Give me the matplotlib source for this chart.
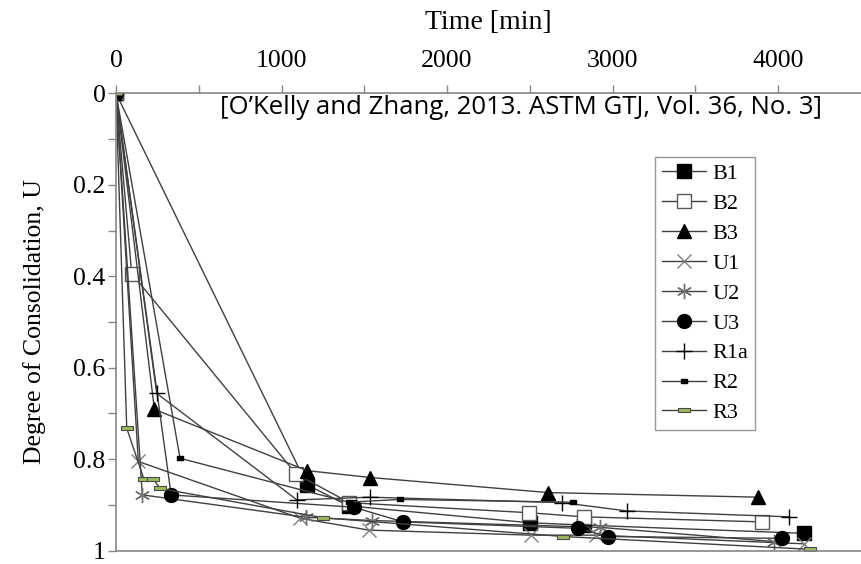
import numpy as np
import matplotlib.pyplot as plt
from matplotlib.path import Path

# Time [min] and degree of consolidation U for each specimen
t_B1 = [0, 1154, 1405, 2501, 2827, 4154]
u_B1 = [0, 0.856, 0.902, 0.939, 0.944, 0.962]

t_B2 = [0, 95, 1087, 1410, 2495, 2827, 3900]
u_B2 = [0, 0.394, 0.832, 0.895, 0.917, 0.926, 0.937]

t_B3 = [0, 232, 1154, 1537, 2611, 3880]
u_B3 = [0, 0.691, 0.825, 0.840, 0.873, 0.883]

t_U1 = [0, 135, 1113, 1527, 2505, 2898, 4158]
u_U1 = [0, 0.805, 0.929, 0.955, 0.966, 0.966, 0.985]

t_U2 = [0, 159, 1149, 1547, 2925, 3973]
u_U2 = [0, 0.878, 0.927, 0.934, 0.949, 0.980]

t_U3 = [0, 333, 1436, 1734, 2788, 2972, 4021]
u_U3 = [0, 0.878, 0.905, 0.937, 0.951, 0.969, 0.973]

t_R1a = [0, 246, 1093, 1532, 2696, 3085, 4067]
u_R1a = [0, 0.656, 0.889, 0.883, 0.895, 0.913, 0.926]

t_R2 = [0, 387, 1405, 1715, 2763]
u_R2 = [0, 0.798, 0.894, 0.888, 0.894]

t_R3 = [0, 65, 169, 226, 266, 1250, 2702, 4194]
u_R3 = [0, 0.732, 0.844, 0.844, 0.864, 0.928, 0.969, 0.997]

x_ticks = [0, 1000, 2000, 3000, 4000]
y_ticks = [0, 0.2, 0.4, 0.6, 0.8, 1]
y_tick_labels = ['0', '0.2', '0.4', '0.6', '0.8', '1']


def bar_marker(h):
    # flat rectangle used for the R2 / R3 markers
    verts = [(-1, -h), (1, -h), (1, h), (-1, h), (-1, -h)]
    codes = [Path.MOVETO, Path.LINETO, Path.LINETO, Path.LINETO, Path.CLOSEPOLY]
    return Path(verts, codes)


serif = 'Liberation Serif'
line_c = '#404040'
axis_c = '#868686'

fig = plt.figure(figsize=(8.61, 5.64), dpi=100)
ax = fig.add_axes([0.1347, 0.0236, 0.8653, 0.811])

kw = dict(color=line_c, lw=1.0)
ax.plot(t_B1, u_B1, marker='s', ms=9.5, mfc='black', mec='black', label='B1', **kw)
ax.plot(t_B2, u_B2, marker='s', ms=9.5, mfc='white', mec='#595959', mew=1.0, label='B2', **kw)
ax.plot(t_B3, u_B3, marker='^', ms=10.5, mfc='black', mec='black', label='B3', **kw)
ax.plot(t_U1, u_U1, marker='x', ms=10, mec='#808080', mew=1.0, label='U1', **kw)
ax.plot(t_U2, u_U2, marker=(6, 2, 0), ms=11, mec='#707070', mew=1.0, label='U2', **kw)
ax.plot(t_U3, u_U3, marker='o', ms=10, mfc='black', mec='black', label='U3', **kw)
ax.plot(t_R1a, u_R1a, marker='+', ms=11, mec='black', mew=1.0, label='R1a', **kw)
ax.plot(t_R2, u_R2, marker=bar_marker(0.5), ms=4.5, mfc='black', mec='black', label='R2', **kw)
ax.plot(t_R3, u_R3, marker=bar_marker(0.3), ms=9, mfc='#9bbb59', mec='#4a4a4a', mew=0.8,
        label='R3', **kw)

ax.set_xlim(0, 4500)
ax.set_ylim(1, 0)
ax.xaxis.tick_top()
ax.xaxis.set_label_position('top')
ax.set_xticks(x_ticks)
ax.set_xticks(np.arange(500, 4500, 1000), minor=True)
ax.set_yticks(y_ticks)
ax.set_yticklabels(y_tick_labels)
ax.set_yticks(np.arange(0.1, 1.0, 0.2), minor=True)

ax.tick_params(axis='both', which='both', direction='out', color=axis_c, width=1.0,
               labelsize=18.5, labelcolor='black')
ax.tick_params(axis='x', which='both', length=5.5, pad=10)
ax.tick_params(axis='y', which='both', length=5.5, pad=2)
for lab in ax.get_xticklabels() + ax.get_yticklabels():
    lab.set_family(serif)

ax.spines['right'].set_visible(False)
for s in ['top', 'left', 'bottom']:
    ax.spines[s].set_color(axis_c)
    ax.spines[s].set_linewidth(1.2)

ax.set_xlabel('Time [min]', family=serif, fontsize=20, labelpad=15)
ax.set_ylabel('Degree of Consolidation, U', family=serif, fontsize=18.5, labelpad=20)

ax.text(0.544, 0.97, '[O\u2019Kelly and Zhang, 2013. ASTM GTJ, Vol. 36, No. 3]',
        transform=ax.transAxes, ha='center', va='center', fontsize=18.5, family='Open Sans')

leg = ax.legend(loc='upper right', bbox_to_anchor=(0.858, 0.861), borderaxespad=0,
                prop={'family': serif, 'size': 16}, frameon=True, fancybox=False,
                edgecolor='#7f7f7f', labelspacing=0.42, handlelength=2.0,
                handletextpad=0.3, borderpad=0.3)
leg.get_frame().set_linewidth(1.0)

fig.savefig('out.png', dpi=100)
